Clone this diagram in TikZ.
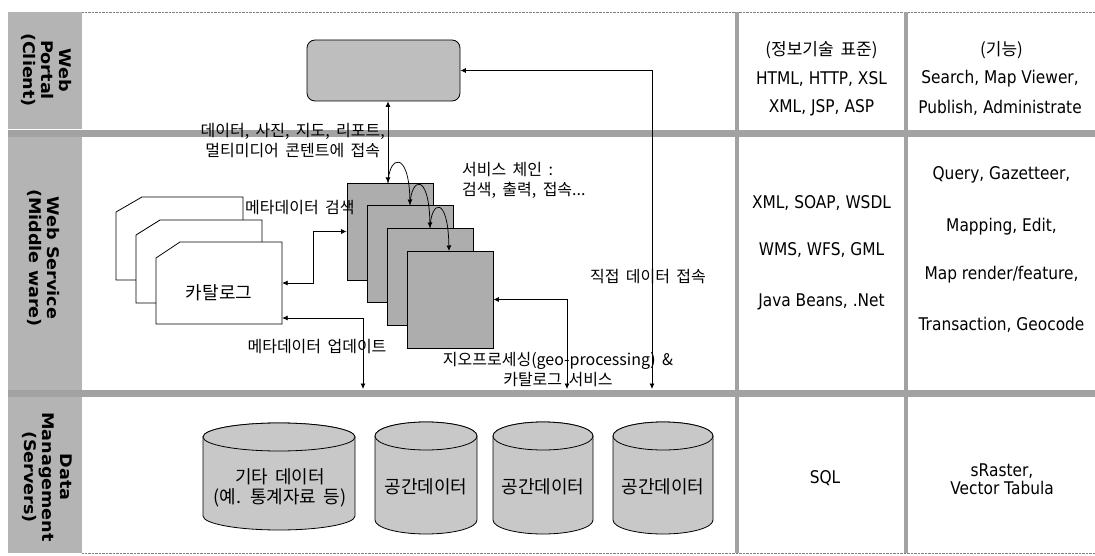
\documentclass[tikz,border=0pt]{standalone}
\usepackage{fontspec}
\setmainfont{Noto Sans CJK KR}
\newfontfamily\colfont[FakeStretch=0.88]{DejaVu Sans}
\newfontfamily\lblfont[FakeStretch=1.1]{DejaVu Sans}
\usetikzlibrary{arrows.meta}
\definecolor{lblgray}{HTML}{B4B4B4}
\definecolor{bandgray}{HTML}{A2A2A2}
\definecolor{svcgray}{HTML}{ADADAD}
\definecolor{portalgray}{HTML}{BEBEBE}
\definecolor{cylgray}{HTML}{C8C8C8}
\newcommand\mykspace{\spaceskip=0.4em\relax}
\begin{document}
\begin{tikzpicture}[x=1pt,y=-1pt,
  kor/.style={font=\fontsize{16}{20}\selectfont\mykspace, inner sep=0pt, align=center},
  korbig/.style={font=\fontsize{18}{20}\selectfont\mykspace, inner sep=0pt, align=center},
  korhead/.style={font=\fontsize{17}{20}\selectfont\mykspace, inner sep=0pt, align=center},
  col/.style={font=\colfont\fontsize{17.5}{20}\selectfont, inner sep=0pt},
  lbl/.style={font=\lblfont\bfseries\fontsize{16}{18}\selectfont, rotate=-90, align=center, inner sep=0pt},
  svc/.style={draw=black, fill=svcgray, line width=0.8pt, minimum width=86pt, minimum height=97pt, inner sep=0pt},
  card/.style={draw=black, fill=white, line width=0.8pt},
  cylst/.style={draw=black, fill=cylgray, line width=0.8pt},
  dar/.style={{Latex[length=5.5pt,width=5pt]}-{Latex[length=5.5pt,width=5pt]}, line width=0.75pt},
  sar/.style={-{Latex[length=5.5pt,width=5pt]}, line width=0.75pt}]
\useasboundingbox (0,0) rectangle (1095,556);
\fill[white] (0,0) rectangle (1095,556);
% frame
\fill[lblgray] (8,12) rectangle (82,129);
\fill[lblgray] (8,137) rectangle (82,390);
\fill[lblgray] (8,397) rectangle (82,553);
\draw[gray, densely dotted] (82,12) -- (1095,12);
\draw[gray, densely dotted] (82,553) -- (1095,553);
\fill[bandgray] (8,130) rectangle (1095,137);
\fill[bandgray] (8,390) rectangle (1095,397);
\fill[bandgray] (735,12) rectangle (739,553);
\fill[bandgray] (904,12) rectangle (908,553);
% row labels
\node[lbl] (l1) at (47,70) {Web\\Portal\\(Client)};
\node[lbl] (l2) at (44,258) {Web Service\\(Middle ware)};
\node[lbl] (l3) at (47,477) {Data\\Management\\(Servers)};
% portal
\node[draw=black, fill=portalgray, rounded corners=8pt, line width=0.8pt, minimum width=153pt, minimum height=61pt, inner sep=0pt] (portal) at (383.5,70.5) {};
% catalog cards
\draw[card] (116,212) -- (142,197) -- (243,197) -- (243,280) -- (116,280) -- cycle;
\draw[card] (136,235) -- (160,220) -- (262,220) -- (262,303) -- (136,303) -- cycle;
\draw[card] (156,258) -- (180,242) -- (282,242) -- (282,324) -- (156,324) -- cycle;
\node[minimum width=126pt, minimum height=82pt, inner sep=0pt] (cat) at (219,283) {};
\node[korbig] (cattext) at (219,293) {카탈로그};
% service boxes
\node[svc] (s1) at (390,231.5) {};
\node[svc] (s2) at (410,254) {};
\node[svc] (s3) at (430,276.5) {};
\node[svc] (s4) at (450,299.5) {};
% chain arcs
\coordinate (a1) at (388,183);
\coordinate (a2) at (410,205);
\coordinate (a3) at (430,228);
\coordinate (a4) at (449,251);
\draw[sar] (a1) .. controls +(1,-28) and +(-1,-55) .. (a2);
\draw[sar] (a2) .. controls +(1,-28) and +(-1,-56) .. (a3);
\draw[sar] (a3) .. controls +(1,-28) and +(-1,-56) .. (a4);
% connectors
\coordinate (dbot) at (652,389);
\coordinate (ubot) at (363,389);
\coordinate (gbot) at (567,389);
\draw[dar] (portal.south -| a1) -- (a1);
\draw[dar] (portal.east) -| (dbot);
\draw[dar] (cat.east) -- ++(31,0) |- (s1.west);
\draw[dar] ([yshift=-35pt]cat.east) -| (ubot);
\draw[dar] (s4.east) -| (gbot);
% labels in diagram
\node[kor, anchor=east] (t1) at (385,141) {데이터, 사진, 지도, 리포트,\\멀티미디어 콘텐트에 접속};
\node[kor, anchor=west] (t2) at (245,208) {메타데이터 검색};
\node[kor, align=left, anchor=west] (t3) at (462,180.5) {서비스 체인 :\\검색, 출력, 접속...};
\node[kor] (t4) at (648,277) {직접 데이터 접속};
\node[kor] (t5) at (317,347) {메타데이터 업데이트};
\node[kor] (t6) at (558,370) {지오프로세싱(geo-processing) \&\\카탈로그 서비스};
% databases
\draw[cylst] (203,437) -- (203,516) arc[start angle=180,end angle=0,x radius=76,y radius=14] -- (355,437) arc[start angle=0,end angle=-180,x radius=76,y radius=14] -- cycle;
\draw[cylst] (279,437) ellipse[x radius=76,y radius=14];
\node[korbig] (db1) at (280,488) {기타 데이터\\(예. 통계자료 등)};
\draw[cylst] (375,436) -- (375,520) arc[start angle=180,end angle=0,x radius=51,y radius=14] -- (477,436) arc[start angle=0,end angle=-180,x radius=51,y radius=14] -- cycle;
\draw[cylst] (426,436) ellipse[x radius=51,y radius=14];
\node[korbig] (db2) at (426,487) {공간데이터};
\draw[cylst] (493,436) -- (493,520) arc[start angle=180,end angle=0,x radius=50,y radius=14] -- (593,436) arc[start angle=0,end angle=-180,x radius=50,y radius=14] -- cycle;
\draw[cylst] (543,436) ellipse[x radius=50,y radius=14];
\node[korbig] (db3) at (543,487) {공간데이터};
\draw[cylst] (613,436) -- (613,520) arc[start angle=180,end angle=0,x radius=50,y radius=14] -- (713,436) arc[start angle=0,end angle=-180,x radius=50,y radius=14] -- cycle;
\draw[cylst] (663,436) ellipse[x radius=50,y radius=14];
\node[korbig] (db4) at (663,487) {공간데이터};
% right columns
\node[korhead] (c11) at (821.5,50) {(정보기술 표준)};
\node[col] (c12) at (821.5,79) {HTML, HTTP, XSL};
\node[col] (c13) at (821.5,108) {XML, JSP, ASP};
\node[korhead] (d11) at (1001.5,50) {(기능)};
\node[col] (d12) at (1000,79) {Search, Map Viewer,};
\node[col] (d13) at (1000,108) {Publish, Administrate};
\node[col] (c21) at (821.5,203) {XML, SOAP, WSDL};
\node[col] (c22) at (821.5,250) {WMS, WFS, GML};
\node[col] (c23) at (821.5,302) {Java Beans, .Net};
\node[col] (d21) at (1001.5,175) {Query, Gazetteer,};
\node[col] (d22) at (1001.5,227) {Mapping, Edit,};
\node[col] (d23) at (1001.5,275) {Map render/feature,};
\node[col] (d24) at (1001.5,325) {Transaction, Geocode};
\node[col] (c31) at (825,478) {SQL};
\node[col, align=center, font=\colfont\fontsize{17.5}{18}\selectfont] (d31) at (1002,479) {sRaster,\\Vector Tabula};
\end{tikzpicture}
\end{document}
